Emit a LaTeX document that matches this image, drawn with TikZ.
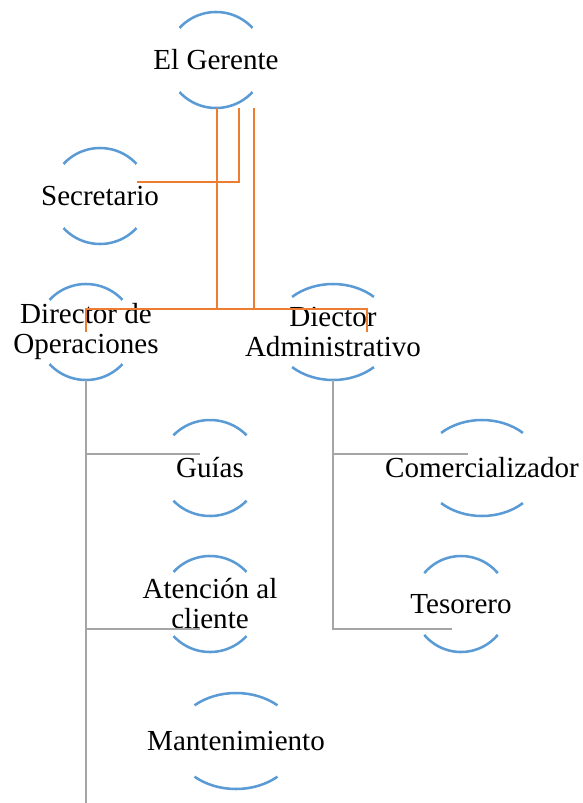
\documentclass[tikz,border=0pt]{standalone}
\usepackage{fontspec}
\setmainfont{Liberation Serif}
\usetikzlibrary{calc}
\definecolor{azul}{RGB}{91,155,213}
\definecolor{naranja}{RGB}{237,125,49}
\definecolor{gris}{RGB}{165,165,165}
\begin{document}
\begin{tikzpicture}[x=0.75pt, y=0.75pt,
  puesto/.style={rectangle, inner sep=0pt, minimum height=72pt, align=center, font=\fontsize{21.8}{22.5}\selectfont},
  arco/.style={azul, line width=1.9pt},
  jefe/.style={naranja, line width=1.9pt},
  sub/.style={gris, line width=2pt}]
\useasboundingbox (0,0) rectangle (582,-803);

\node[puesto](ger) at (216,-60) {El Gerente};
\node[puesto](sec) at (100,-196) {Secretario};
\node[puesto](dop) at (86,-332) {Director de\\Operaciones};
\node[puesto](dad) at (333,-332) {Diector\\Administrativo};

\node[puesto](gui) at (210,-468) {Guías};
\node[puesto](ate) at (210,-604) {Atención al\\cliente};
\node[puesto](man) at (236,-741) {Mantenimiento};
\node[puesto](com) at (482,-468) {Comercializador};
\node[puesto](tes) at (461,-604) {Tesorero};

\coordinate (fin) at (86,-803);

% arcos de arriba y de abajo
\foreach \n/\rx/\t in {ger/49/42, sec/49/42, dop/49/42, dad/60/47, gui/50/43, ate/49/42, man/62/48, com/60/47, tes/48/40}{
  \draw[arco] (\n.center) ++({\rx*cos(\t)},{48*sin(\t)}) arc[start angle=\t, end angle=180-\t, x radius=\rx, y radius=48];
  \draw[arco] (\n.center) ++({-\rx*cos(\t)},{-48*sin(\t)}) arc[start angle=180+\t, end angle=360-\t, x radius=\rx, y radius=48];
}

\draw[jefe] ($(ger.south)+(23,0)$) |- ($(sec.center)+(37,14)$);
\draw[jefe] ($(ger.south)+(1,0)$) |- ($(dad.center)+(34,23)$) -- ($(dad.center)+(34,0)$);
\draw[jefe] ($(ger.south)+(38,0)$) |- ($(dop.center)+(0,23)$) -- (dop.center);

\draw[sub] (dop.south) -- (fin);
\draw[sub] (dop.south) |- ($(gui.center)+(-10,14)$);
\draw[sub] (dop.south) |- ($(ate.center)+(-10,-25)$);
%\draw[sub] (dop.south) |- (man.west);

\draw[sub] (dad.south) |- ($(com.center)+(-14,14)$);
\draw[sub] (dad.south) |- ($(tes.center)+(-9,-25)$);

\end{tikzpicture}
\end{document}
